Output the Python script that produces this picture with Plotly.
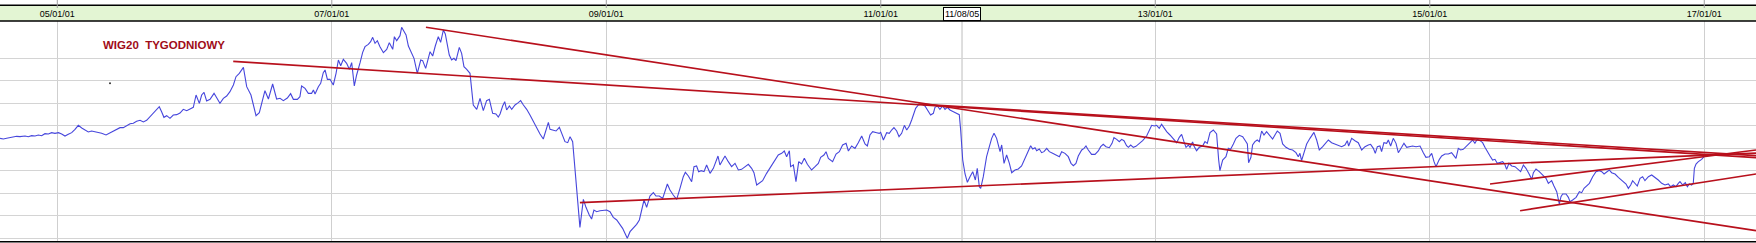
import plotly.graph_objects as go

# ---------------- data ----------------
tick_years = [2005, 2007, 2009, 2011, 2013, 2015, 2017]
tick_labels = ["05/01/01", "07/01/01", "09/01/01", "11/01/01", "13/01/01", "15/01/01", "17/01/01"]
grid_levels = [1380, 1650, 1920, 2190, 2460, 2730, 3000, 3270, 3540]
cursor_year = 2011.592
cursor_label = "11/08/05"
title_text = "WIG20  TYGODNIOWY"
title_pos = (2005.78, 3704)
speck_pos = (2005.384, 3240)

wig_years = [
    2004.583, 2004.607, 2004.631, 2004.668, 2004.704, 2004.728, 2004.765, 2004.789, 2004.813, 2004.838,
    2004.862, 2004.886, 2004.910, 2004.935, 2004.959, 2004.983, 2005.008, 2005.032, 2005.056, 2005.080,
    2005.105, 2005.129, 2005.153, 2005.178, 2005.202, 2005.226, 2005.250, 2005.275, 2005.299, 2005.323,
    2005.355, 2005.384, 2005.408, 2005.433, 2005.457, 2005.481, 2005.505, 2005.530, 2005.554, 2005.578,
    2005.603, 2005.627, 2005.651, 2005.675, 2005.700, 2005.724, 2005.743, 2005.760, 2005.777, 2005.797,
    2005.821, 2005.845, 2005.870, 2005.894, 2005.918, 2005.943, 2005.967, 2005.991, 2006.011, 2006.035,
    2006.052, 2006.069, 2006.088, 2006.113, 2006.142, 2006.166, 2006.185, 2006.210, 2006.234, 2006.258,
    2006.283, 2006.302, 2006.326, 2006.356, 2006.380,
    2006.411, 2006.428, 2006.448, 2006.472, 2006.501, 2006.513, 2006.538, 2006.569, 2006.598, 2006.623,
    2006.647, 2006.676, 2006.700, 2006.720, 2006.749, 2006.768, 2006.780, 2006.805, 2006.829, 2006.853,
    2006.866, 2006.878, 2006.902, 2006.919, 2006.938, 2006.951, 2006.968, 2006.987, 2007.011, 2007.031,
    2007.048, 2007.065, 2007.084, 2007.108, 2007.128, 2007.145, 2007.164, 2007.181, 2007.206, 2007.225,
    2007.242, 2007.266, 2007.283, 2007.298, 2007.315, 2007.332, 2007.351, 2007.376, 2007.400, 2007.419,
    2007.444, 2007.456, 2007.473, 2007.497, 2007.509, 2007.521, 2007.541, 2007.558, 2007.582, 2007.599,
    2007.623, 2007.648, 2007.662, 2007.684, 2007.716, 2007.735, 2007.754, 2007.776, 2007.793, 2007.813,
    2007.827, 2007.842, 2007.856, 2007.873, 2007.890, 2007.905, 2007.929, 2007.946, 2007.963, 2007.983,
    2008.007, 2008.031, 2008.056, 2008.080, 2008.104, 2008.128, 2008.148, 2008.172, 2008.196, 2008.213,
    2008.226, 2008.245, 2008.260, 2008.274, 2008.294, 2008.311, 2008.335, 2008.359, 2008.376, 2008.396,
    2008.420, 2008.444, 2008.468, 2008.493, 2008.517, 2008.541, 2008.561, 2008.578, 2008.590, 2008.614,
    2008.634, 2008.658, 2008.675, 2008.699, 2008.719, 2008.736, 2008.755, 2008.772, 2008.791, 2008.808,
    2008.833, 2008.852, 2008.876, 2008.893, 2008.910, 2008.930, 2008.954, 2008.978, 2009.003, 2009.027,
    2009.051, 2009.076, 2009.095, 2009.119, 2009.136, 2009.153, 2009.173, 2009.197, 2009.221, 2009.241,
    2009.265, 2009.275, 2009.294, 2009.318, 2009.343, 2009.362, 2009.386, 2009.411, 2009.445, 2009.464,
    2009.488, 2009.513, 2009.537, 2009.561, 2009.576, 2009.598, 2009.622, 2009.639, 2009.658, 2009.673,
    2009.692, 2009.712, 2009.731, 2009.756, 2009.780, 2009.792, 2009.814, 2009.828, 2009.848, 2009.865,
    2009.889, 2009.913, 2009.938, 2009.962, 2009.986, 2010.011, 2010.035,
    2010.059, 2010.076, 2010.096, 2010.115, 2010.139, 2010.168, 2010.198, 2010.222, 2010.253, 2010.278,
    2010.297, 2010.314, 2010.334, 2010.343, 2010.363, 2010.382, 2010.402, 2010.423, 2010.443, 2010.465,
    2010.496, 2010.521, 2010.545, 2010.562, 2010.586, 2010.601, 2010.618, 2010.649, 2010.674, 2010.698,
    2010.722, 2010.747, 2010.764, 2010.788, 2010.812, 2010.836, 2010.861, 2010.885, 2010.902, 2010.921,
    2010.941, 2010.970, 2010.989, 2010.999, 2011.019, 2011.043, 2011.062, 2011.079, 2011.096, 2011.116,
    2011.133, 2011.152, 2011.172, 2011.189, 2011.208, 2011.225, 2011.237, 2011.254, 2011.274, 2011.298,
    2011.322, 2011.346, 2011.363, 2011.383, 2011.395, 2011.412, 2011.431, 2011.451, 2011.468, 2011.485,
    2011.504, 2011.529, 2011.553, 2011.572, 2011.582, 2011.597, 2011.614, 2011.631, 2011.650, 2011.670,
    2011.689, 2011.703, 2011.718, 2011.728, 2011.747, 2011.771, 2011.791, 2011.808, 2011.825, 2011.844,
    2011.869,
    2011.881, 2011.898, 2011.917, 2011.937, 2011.954, 2011.978, 2012.002, 2012.026, 2012.051, 2012.075,
    2012.092, 2012.107, 2012.124, 2012.136, 2012.155, 2012.172, 2012.189, 2012.209, 2012.228, 2012.252,
    2012.277, 2012.301, 2012.318, 2012.342, 2012.366, 2012.386, 2012.403, 2012.422, 2012.439, 2012.464,
    2012.481, 2012.495, 2012.512, 2012.536, 2012.561, 2012.585, 2012.602, 2012.621, 2012.641, 2012.665,
    2012.685, 2012.699, 2012.719, 2012.738, 2012.755, 2012.772, 2012.791, 2012.804, 2012.821, 2012.840,
    2012.859, 2012.884, 2012.908, 2012.937, 2012.957, 2012.974, 2012.993, 2013.010, 2013.029, 2013.046,
    2013.063, 2013.083, 2013.107, 2013.131, 2013.156, 2013.175, 2013.192, 2013.209, 2013.224, 2013.241,
    2013.253, 2013.272, 2013.282, 2013.301, 2013.321, 2013.345, 2013.362, 2013.379, 2013.399, 2013.423,
    2013.447, 2013.462, 2013.471, 2013.491, 2013.515, 2013.532, 2013.549, 2013.569, 2013.588, 2013.612,
    2013.637, 2013.661, 2013.671, 2013.680,
    2013.697, 2013.709, 2013.726, 2013.743, 2013.758, 2013.775, 2013.792, 2013.811, 2013.831, 2013.855,
    2013.872, 2013.889, 2013.909, 2013.928, 2013.952, 2013.977, 2014.001, 2014.025, 2014.042, 2014.054,
    2014.066, 2014.083, 2014.103, 2014.127, 2014.156, 2014.176, 2014.195, 2014.220, 2014.244, 2014.261,
    2014.285, 2014.309, 2014.334, 2014.358, 2014.382, 2014.399, 2014.409, 2014.431, 2014.455, 2014.479,
    2014.504, 2014.528, 2014.552, 2014.569, 2014.589, 2014.603, 2014.618, 2014.637, 2014.649, 2014.666,
    2014.686, 2014.698, 2014.715, 2014.734, 2014.754, 2014.771, 2014.795, 2014.812, 2014.832, 2014.851,
    2014.875, 2014.900, 2014.929, 2014.953, 2014.972, 2014.997, 2015.014, 2015.031, 2015.045, 2015.070,
    2015.087, 2015.111, 2015.135, 2015.159, 2015.176, 2015.191, 2015.208, 2015.225, 2015.244, 2015.269,
    2015.288, 2015.312, 2015.329, 2015.346, 2015.366, 2015.385, 2015.402, 2015.419, 2015.439, 2015.458,
    2015.475, 2015.492, 2015.512,
    2015.531, 2015.546, 2015.560, 2015.577, 2015.597, 2015.621, 2015.645, 2015.662, 2015.682, 2015.701,
    2015.721, 2015.743, 2015.755, 2015.774, 2015.798, 2015.823, 2015.847, 2015.864, 2015.888, 2015.905,
    2015.925, 2015.944, 2015.956, 2015.968, 2015.993, 2016.010, 2016.022, 2016.041, 2016.066, 2016.090,
    2016.107, 2016.124, 2016.143, 2016.163, 2016.187, 2016.211, 2016.236, 2016.253, 2016.270, 2016.289,
    2016.308, 2016.325, 2016.350, 2016.374, 2016.391, 2016.410, 2016.430, 2016.447, 2016.464, 2016.478,
    2016.495, 2016.512, 2016.532, 2016.551, 2016.568, 2016.593, 2016.617, 2016.641, 2016.665, 2016.690,
    2016.714, 2016.738, 2016.755, 2016.775, 2016.794, 2016.811, 2016.823, 2016.843, 2016.862, 2016.877,
    2016.891, 2016.908, 2016.920, 2016.928, 2016.940, 2016.957, 2016.981, 2016.998,
]

wig_values = [
    2580, 2572, 2580, 2592, 2604, 2600, 2608, 2600, 2612, 2608,
    2620, 2612, 2636, 2632, 2648, 2640, 2648, 2632, 2608, 2628,
    2648, 2688, 2736, 2704, 2676, 2656, 2668, 2660, 2652, 2640,
    2620, 2644, 2664, 2692, 2708, 2708, 2732, 2756, 2760, 2784,
    2796, 2776, 2796, 2840, 2884, 2928, 2960, 2900, 2832, 2852,
    2820, 2860, 2864, 2884, 2928, 2912, 2936, 2952, 3100, 3000,
    3100, 3132, 3028, 3048, 3120, 3060, 3000, 3060, 3088, 3140,
    3220, 3320, 3360, 3432, 3200,
    3100, 2980, 2852, 2888, 3060, 3152, 3052, 3232, 3052, 3060,
    3032, 3064, 3116, 3048, 3048, 3080, 3208, 3180, 3120, 3120,
    3160, 3112, 3200, 3240, 3368, 3400, 3288, 3288, 3220, 3360,
    3520, 3452, 3528, 3480, 3408, 3488, 3208, 3340, 3488, 3612,
    3680, 3708, 3740, 3792, 3720, 3752, 3680, 3608, 3648, 3728,
    3648, 3800, 3752, 3812, 3912, 3880, 3820, 3688, 3600, 3540,
    3360, 3520, 3512, 3420, 3620, 3568, 3688, 3800, 3732, 3880,
    3832, 3680, 3580, 3520, 3540, 3512, 3672, 3600, 3440, 3408,
    3360, 2980, 2928, 3060, 2912, 3032, 3048, 2880, 2872, 2836,
    2872, 2968, 3020, 2920, 2968, 2928, 2980, 3008, 3032, 2980,
    2928, 2860, 2780, 2700, 2632, 2572, 2680, 2772, 2688, 2680,
    2668, 2712, 2640, 2540, 2528, 2600, 2540, 2200, 1820, 1512,
    1848, 1752, 1660, 1612, 1720, 1700, 1712, 1712, 1720, 1700,
    1632, 1600, 1552, 1500, 1440, 1380, 1460, 1500, 1548, 1600,
    1760, 1840, 1752, 1888, 1928, 1888, 1888, 1860, 2032, 1960,
    1900, 1848, 1980, 2120, 2172, 2128, 2060, 2240, 2248, 2180,
    2192, 2180, 2260, 2160, 2220, 2272, 2368, 2260, 2320, 2368,
    2300, 2240, 2280, 2200, 2208, 2240, 2268,
    2220, 2168, 2020, 2048, 2072, 2160, 2240, 2312, 2380, 2400,
    2428, 2360, 2432, 2240, 2260, 2060, 2300, 2272, 2340, 2268,
    2200, 2240, 2280, 2352, 2380, 2420, 2340, 2300, 2392, 2420,
    2500, 2520, 2428, 2488, 2460, 2528, 2608, 2512, 2488, 2620,
    2660, 2648, 2640, 2652, 2560, 2648, 2640, 2680, 2708, 2668,
    2600, 2640, 2736, 2680, 2728, 2800, 2860, 2940, 2980, 2992,
    2968, 2900, 2860, 2880, 2952, 2968, 2928, 2968, 2928, 2952,
    2920, 2900, 2880, 2864, 2680, 2320, 2152, 2052, 2120, 2180,
    2080, 2220, 2000, 1980, 2120, 2360, 2480, 2580, 2640, 2580,
    2420,
    2500, 2280, 2380, 2280, 2168, 2200, 2212, 2248, 2340, 2440,
    2492, 2452, 2468, 2432, 2452, 2408, 2420, 2460, 2420, 2400,
    2380, 2360, 2420, 2400, 2360, 2280, 2252, 2280, 2368, 2440,
    2460, 2488, 2440, 2388, 2388, 2428, 2480, 2508, 2480, 2468,
    2520, 2588, 2568, 2540, 2568, 2552, 2492, 2472, 2500, 2472,
    2484, 2520, 2552, 2608, 2680, 2736, 2728, 2736, 2700, 2748,
    2708, 2660, 2620, 2580, 2528, 2592, 2628, 2540, 2472, 2500,
    2472, 2536, 2488, 2432, 2472, 2488, 2540, 2520, 2648, 2680,
    2632, 2320, 2192, 2320, 2360, 2460, 2448, 2512, 2580, 2616,
    2600, 2540, 2512, 2288,
    2352, 2500, 2540, 2560, 2540, 2668, 2620, 2660, 2620, 2572,
    2620, 2668, 2640, 2512, 2472, 2448, 2440, 2408, 2360, 2400,
    2312, 2420, 2512, 2580, 2652, 2560, 2440, 2480, 2528, 2560,
    2528, 2512, 2488, 2480, 2500, 2552, 2488, 2580, 2552, 2528,
    2440, 2480, 2500, 2508, 2460, 2400, 2480, 2488, 2420, 2528,
    2520, 2560, 2488, 2580, 2520, 2408, 2472, 2520, 2472, 2480,
    2488, 2480, 2488, 2408, 2352, 2360, 2400, 2300, 2240, 2328,
    2368, 2392, 2392, 2408, 2368, 2340, 2460, 2440, 2448, 2488,
    2520, 2560, 2520, 2568, 2552, 2528, 2472, 2420, 2368, 2320,
    2328, 2280, 2288,
    2300, 2272, 2208, 2280, 2248, 2240, 2208, 2180, 2260, 2220,
    2160, 2088, 2168, 2212, 2180, 2140, 2100, 2040, 2072, 2008,
    1940, 1792, 1880, 1912, 1912, 1872, 1820, 1840, 1872, 1940,
    1928, 1980, 2008, 2040, 2120, 2180, 2192, 2180, 2152, 2180,
    2200, 2168, 2152, 2112, 2088, 2060, 2032, 1980, 2020, 2072,
    2040, 2008, 2100, 2120, 2072, 2120, 2140, 2112, 2080, 2040,
    2020, 2032, 2000, 2020, 2000, 2040, 2060, 2020, 2048, 2000,
    2032, 2020, 2040, 2220, 2272, 2300, 2328, 2360,
]

# trend lines drawn on the chart: start (year, level) -> end (year, level)
trend_start_year = [2006.282, 2007.686, 2008.808, 2015.439, 2015.658, 2011.274]
trend_start_val = [3504, 3912, 1808, 2032, 1712, 2992]
trend_end_year = [2017.377, 2017.377, 2017.377, 2017.377, 2017.377, 2017.377]
trend_end_val = [2348, 1472, 2403, 2440, 2152, 2372]

x_range = [2004.5825, 2017.377]
y_range = [1336, 3988]

# ---------------- figure ----------------
W, H = 1756, 243
TOP, BOT = 21, 1
plot_h = H - TOP - BOT


def py(pix_from_top):
    """paper y for a pixel row above/inside the plot"""
    return 1 + (TOP - pix_from_top) / plot_h


fig = go.Figure()

tx, ty = [], []
for x0, y0, x1, y1 in zip(trend_start_year, trend_start_val, trend_end_year, trend_end_val):
    tx += [x0, x1, None]
    ty += [y0, y1, None]

fig.add_trace(go.Scatter(x=wig_years, y=wig_values, mode="lines",
                         line=dict(color="#4646dc", width=1.1), hoverinfo="skip"))
fig.add_trace(go.Scatter(x=tx, y=ty, mode="lines",
                         line=dict(color="#b8101c", width=1.6), hoverinfo="skip"))
fig.add_trace(go.Scatter(x=[speck_pos[0]], y=[speck_pos[1]], mode="markers",
                         marker=dict(color="#333333", size=2), hoverinfo="skip"))

shapes = [
    dict(type="rect", xref="paper", yref="paper", x0=0, x1=1, y0=1, y1=py(5.3),
         fillcolor="#e3f5d3", line=dict(width=0), layer="below"),
    dict(type="line", xref="paper", yref="paper", x0=0, x1=1, y0=py(5.3), y1=py(5.3),
         line=dict(color="#000000", width=1.5)),
    dict(type="line", xref="paper", yref="paper", x0=0, x1=1, y0=1, y1=1,
         line=dict(color="#000000", width=1.5)),
    dict(type="line", xref="paper", yref="paper", x0=0, x1=1, y0=py(241.7), y1=py(241.7),
         line=dict(color="#000000", width=1.5)),
    dict(type="line", xref="x", yref="paper", x0=cursor_year, x1=cursor_year, y0=0, y1=1,
         line=dict(color="#bdbdbd", width=1), layer="below"),
]
for t in tick_years:
    shapes.append(dict(type="line", xref="x", yref="paper", x0=t, x1=t, y0=py(8), y1=py(0),
                       line=dict(color="#a0a0a0", width=1)))

annotations = [
    dict(x=title_pos[0], y=title_pos[1], xref="x", yref="y", text=title_text, showarrow=False,
         xanchor="center", yanchor="middle",
         font=dict(family="Liberation Sans, Arial", size=11.5, color="#a00c18", weight="bold")),
    dict(x=cursor_year, y=py(14.2), xref="x", yref="paper", text=cursor_label, showarrow=False,
         xanchor="center", yanchor="middle", bgcolor="#ffffff", bordercolor="#000000",
         borderwidth=1, borderpad=1,
         font=dict(family="Liberation Sans, Arial", size=9, color="#000000")),
]

fig.update_layout(
    width=W, height=H,
    margin=dict(l=0, r=0, t=TOP, b=BOT, pad=0),
    paper_bgcolor="#ffffff", plot_bgcolor="#ffffff",
    showlegend=False,
    shapes=shapes, annotations=annotations,
    xaxis=dict(range=x_range, tickvals=tick_years, ticktext=tick_labels, side="top",
               showgrid=True, gridcolor="#cfcfcf", gridwidth=1, zeroline=False,
               showline=False, ticks="", ticklabelstandoff=1,
               tickfont=dict(family="Liberation Sans, Arial", size=9, color="#000000"),
               fixedrange=True),
    yaxis=dict(range=y_range, tickvals=grid_levels, showticklabels=False,
               showgrid=True, gridcolor="#d4d4d4", gridwidth=1, zeroline=False,
               showline=False, ticks="", fixedrange=True),
)

fig.write_html("out.html")
